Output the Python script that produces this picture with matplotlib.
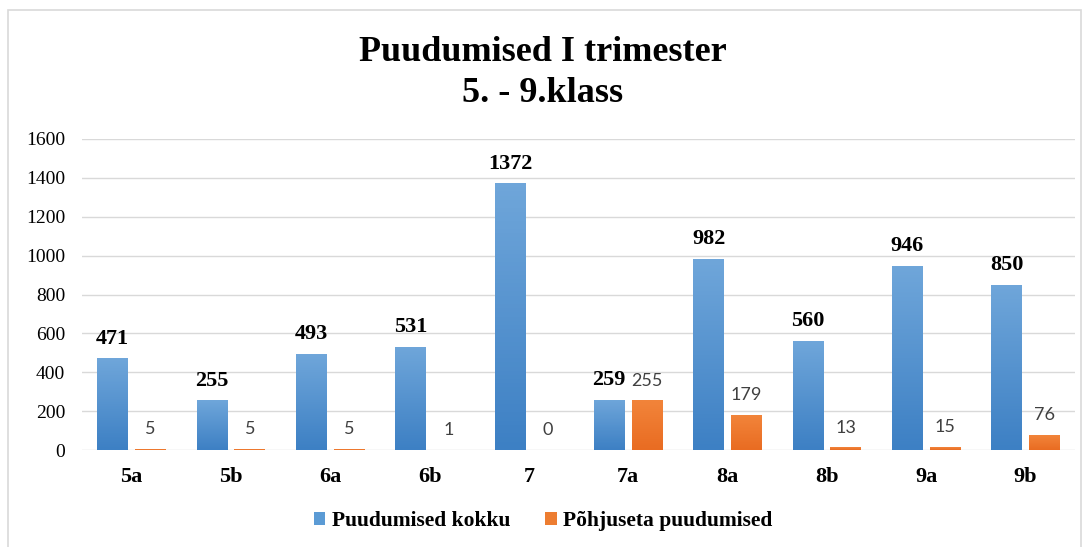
import numpy as np
import matplotlib
matplotlib.use('Agg')
import matplotlib.pyplot as plt
from matplotlib.colors import LinearSegmentedColormap
from matplotlib.patches import Rectangle

classes = ['5a', '5b', '6a', '6b', '7', '7a', '8a', '8b', '9a', '9b']
total = [471, 255, 493, 531, 1372, 259, 982, 560, 946, 850]
unexcused = [5, 5, 5, 1, 0, 255, 179, 13, 15, 76]
series_names = ['Puudumised kokku', 'Põhjuseta puudumised']
title = 'Puudumised I trimester\n5. - 9.klass'

serif = 'Liberation Serif'
blue_cmap = LinearSegmentedColormap.from_list('b', ['#3d80c4', '#6fa6da'])
orange_cmap = LinearSegmentedColormap.from_list('o', ['#e96c22', '#f2843a'])


def shade(ax, bars, cmap):
    # gradient fill clipped to each bar
    grad = np.linspace(0, 1, 64).reshape(-1, 1)
    for b in bars:
        x0, y0 = b.get_x(), b.get_y()
        w, h = b.get_width(), b.get_height()
        if h <= 0:
            continue
        im = ax.imshow(grad, cmap=cmap, origin='lower', aspect='auto',
                       extent=[x0, x0 + w, y0, y0 + h], zorder=3)
        im.set_clip_path(b)


def main():
    fig = plt.figure(figsize=(10.86, 5.47), dpi=100)
    fig.patch.set_facecolor('white')
    fig.patches.append(Rectangle((0.007, -0.01), 0.988, 0.992, transform=fig.transFigure,
                                 fill=False, edgecolor='#d9d9d9', lw=1.2))
    ax = fig.add_axes([0.0755, 0.1773, 0.9144, 0.5686])

    x = np.arange(len(classes))
    bw = 0.31
    off = 0.19

    b1 = ax.bar(x - off, total, bw, color='#5b9bd5', label=series_names[0], zorder=2)
    b2 = ax.bar(x + off, unexcused, bw, color='#ed7d31', label=series_names[1], zorder=2)
    shade(ax, b1, blue_cmap)
    shade(ax, b2, orange_cmap)

    for xi, v in zip(x, total):
        ax.annotate(str(v), (xi - off, v), xytext=(0, 7), textcoords='offset points',
                    ha='center', va='bottom', fontsize=16, fontweight='bold',
                    family=serif, color='black', zorder=5)
    for xi, v in zip(x, unexcused):
        ax.annotate(str(v), (xi + off, v), xytext=(0, 8.5), textcoords='offset points',
                    ha='center', va='bottom', fontsize=13, family='Lato',
                    color='#404040', zorder=5)

    ax.set_xlim(-0.5, len(classes) - 0.5)
    ax.set_ylim(0, 1600)
    ax.set_yticks(range(0, 1601, 200))
    ax.set_xticks(x)
    ax.set_xticklabels(classes, fontsize=16, fontweight='bold', family=serif)
    for t in ax.get_yticklabels():
        t.set_family(serif)
        t.set_fontsize(14)
    ax.tick_params(length=0)
    ax.tick_params(axis='x', pad=12)
    ax.tick_params(axis='y', pad=12)

    ax.grid(True, axis='y', color='#d9d9d9', lw=1)
    ax.set_axisbelow(True)
    for s in ax.spines.values():
        s.set_visible(False)

    fig.text(0.5, 0.867, title, ha='center', va='center', fontsize=26,
             fontweight='bold', family=serif, linespacing=1.32)

    fig.legend(handles=[b1, b2], labels=series_names, loc='center',
               bbox_to_anchor=(0.5, 0.047), ncol=2, frameon=False,
               prop={'family': serif, 'weight': 'bold', 'size': 15.5},
               handlelength=0.55, handleheight=0.55, handletextpad=0.3,
               columnspacing=1.6)

    fig.savefig('out.png', dpi=100)


if __name__ == '__main__':
    main()
